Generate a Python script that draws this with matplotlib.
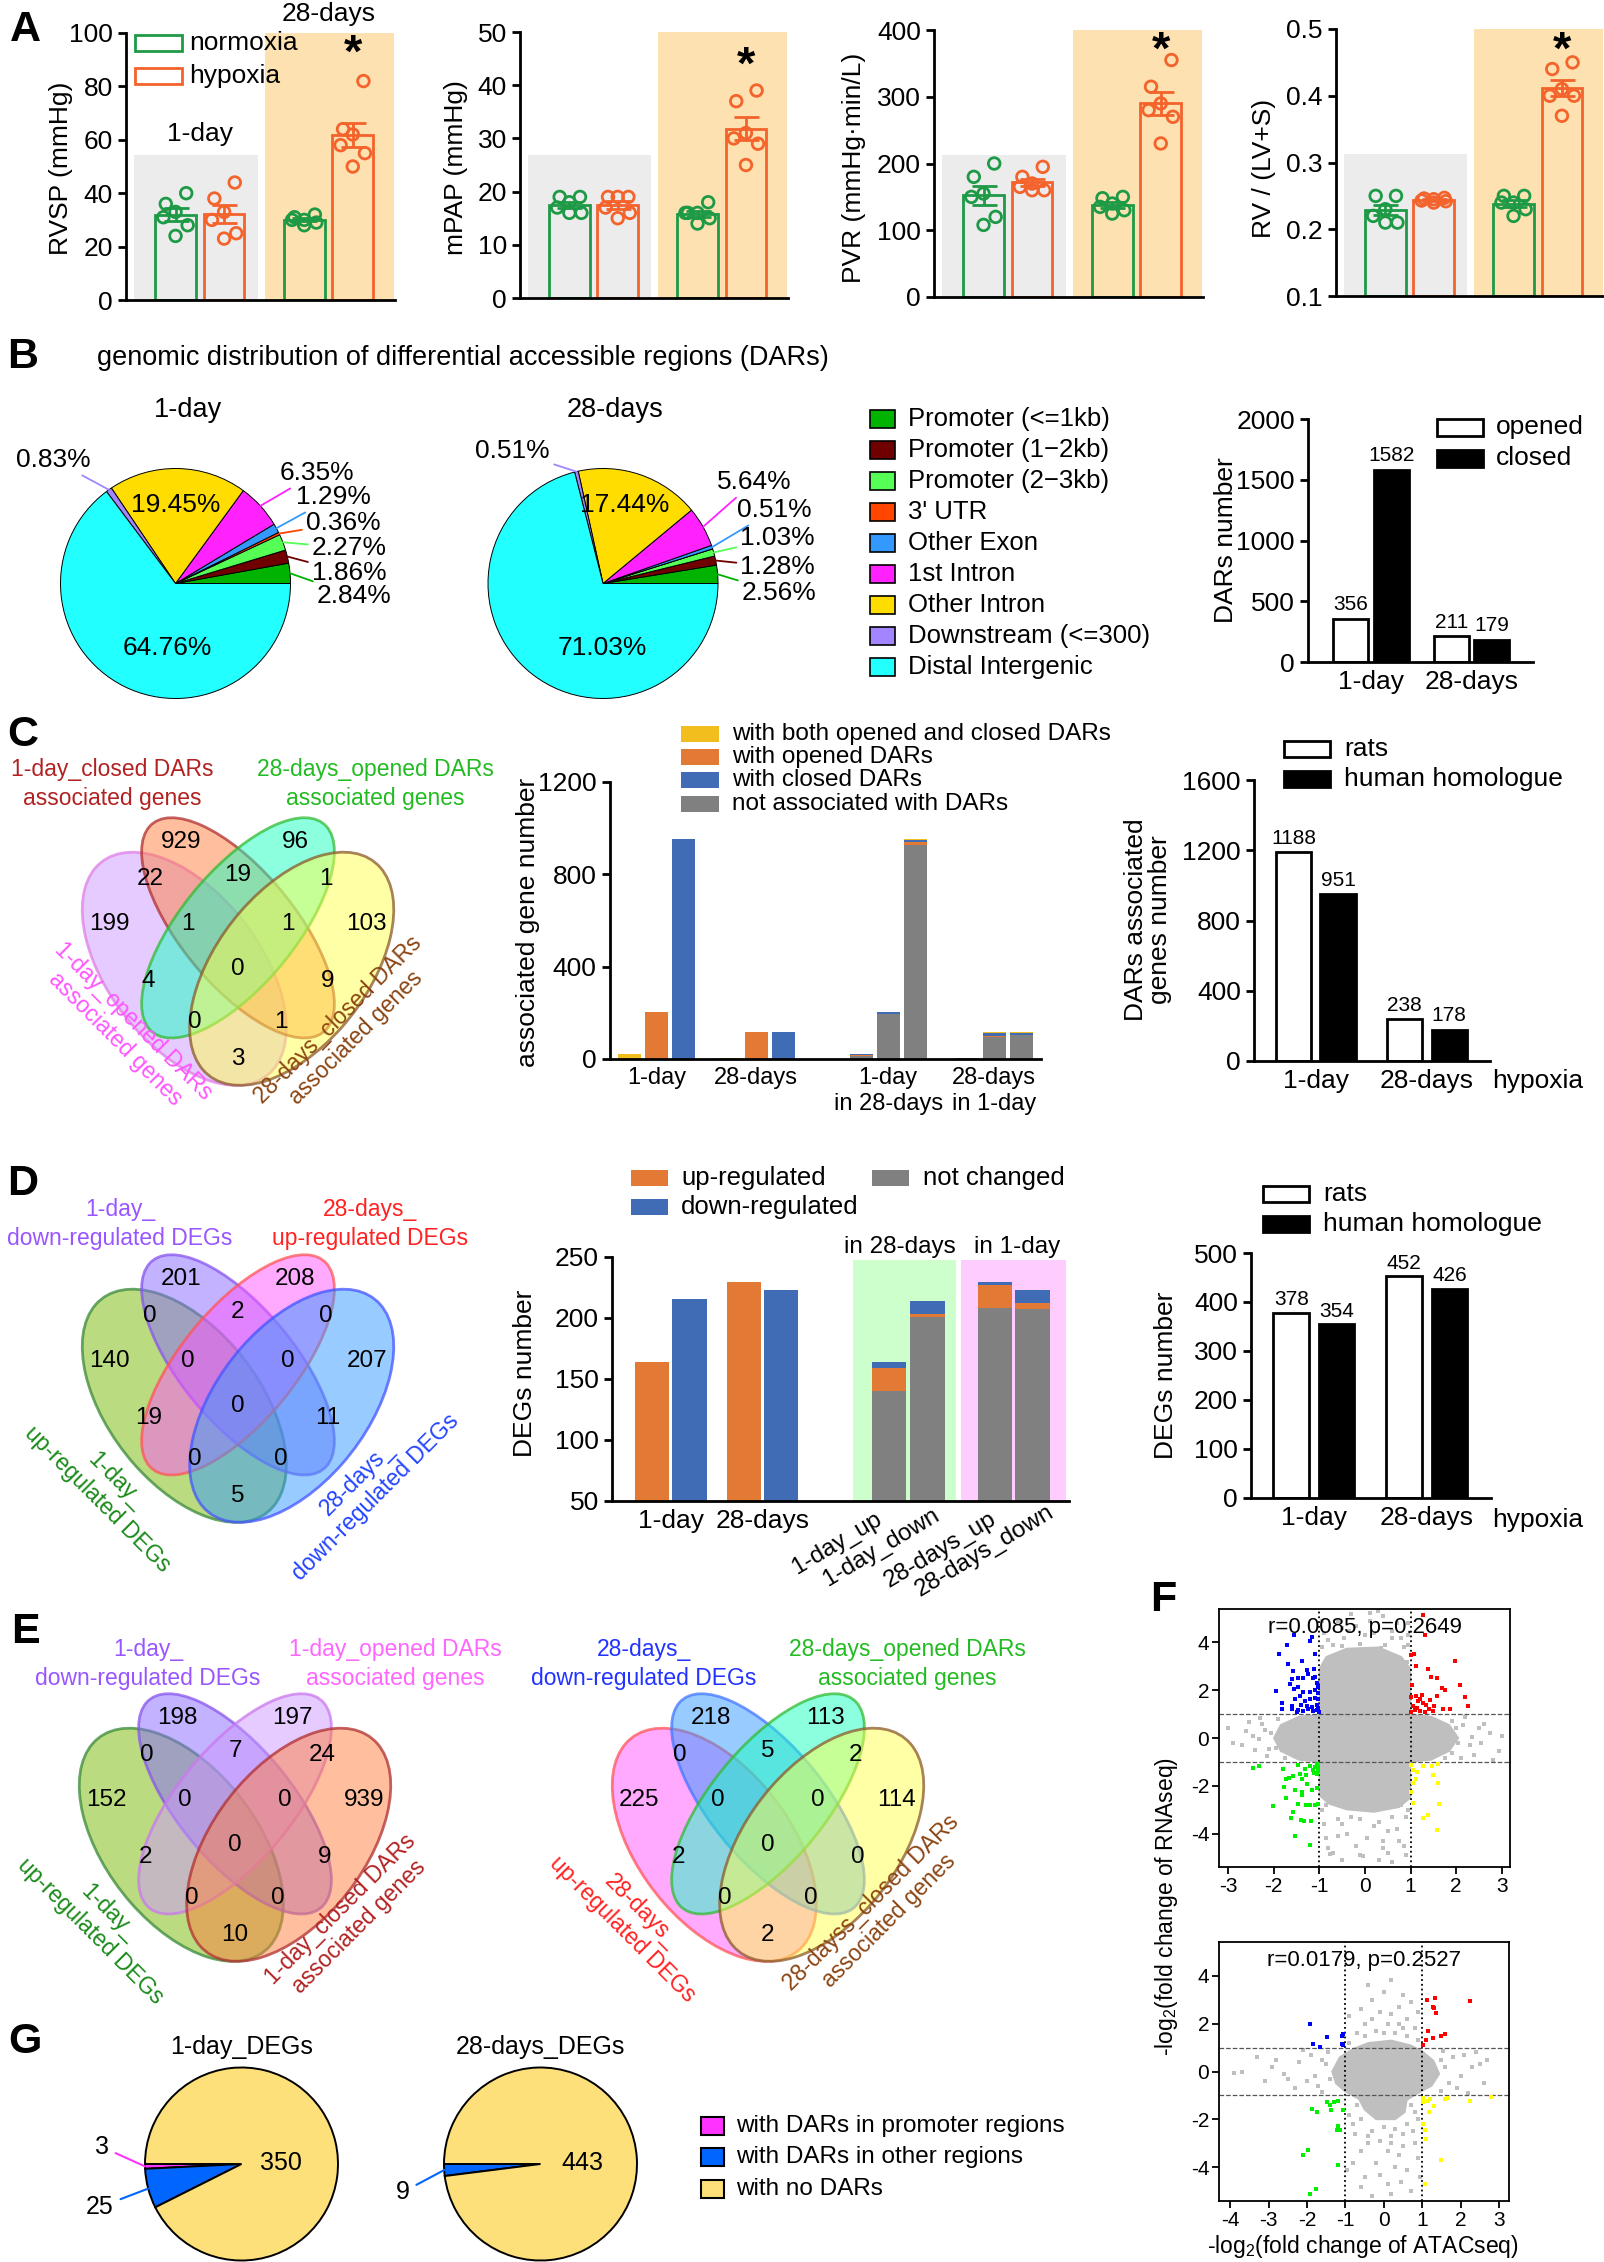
import numpy as np
import matplotlib
matplotlib.use('Agg')
import matplotlib.pyplot as plt
from matplotlib.patches import Ellipse, Rectangle, Polygon

# ---------------- A: haemodynamics (1-day N, 1-day H, 28-days N, 28-days H; 6 rats each) ----------------
rvsp = [[36, 40, 33, 28, 24, 31], [44, 38, 33, 30, 25, 23],
        [32, 31, 30, 29, 28, 30], [82, 62, 64, 58, 55, 50]]
mpap = [[19, 17, 16, 18, 19, 16], [19, 17, 19, 15, 16, 19],
        [18, 16, 15, 14, 16, 16], [39, 37, 30, 29, 31, 25]]
pvr = [[200, 180, 155, 150, 120, 108], [195, 180, 170, 165, 160, 160],
       [150, 148, 135, 130, 125, 140], [355, 315, 290, 280, 270, 230]]
rvi = [[0.25, 0.25, 0.23, 0.22, 0.21, 0.21], [0.247, 0.246, 0.245, 0.243, 0.242, 0.240],
       [0.25, 0.25, 0.24, 0.24, 0.23, 0.22], [0.45, 0.44, 0.41, 0.40, 0.40, 0.37]]

# ---------------- B: genomic distribution of DARs ----------------
b_regions = ['Promoter (<=1kb)', 'Promoter (1\u22122kb)', 'Promoter (2\u22123kb)', "3' UTR", 'Other Exon',
             '1st Intron', 'Other Intron', 'Downstream (<=300)', 'Distal Intergenic']
b_colors = ['#00b300', '#700000', '#55ff55', '#ff4500', '#3399ff', '#ff22ff', '#ffdd00', '#a385ff', '#22ffff']
b_pct_1d = [2.84, 1.86, 2.27, 0.36, 1.29, 6.35, 19.45, 0.83, 64.76]
b_pct_28d = [2.56, 1.28, 1.03, 0.0, 0.51, 5.64, 17.44, 0.51, 71.03]
dar_groups = ['1-day', '28-days']
dar_opened = [356, 211]
dar_closed = [1582, 179]

# ---------------- C ----------------
# venn region order: A, B, C, D, AB, BC, CD, ABC, BCD, AC, ABCD, BD, ACD, ABD, AD
venn_c = [199, 929, 96, 103, 22, 19, 1, 1, 1, 4, 0, 9, 0, 1, 3]
c_cats = ['1-day', '28-days', '1-day\nin 28-days', '28-days\nin 1-day']
c_both = [23, 4]
c_opened = [203, 118]
c_closed = [955, 115]
# stacked bars (sub-bars: both / opened / closed genes of the other time point)
c_in28_gray = [14, 193, 926]
c_in28_opened = [2, 2, 15]
c_in28_closed = [6, 8, 7]
c_in28_both = [1, 0, 7]
c_in1_gray = [3, 95, 104]
c_in1_opened = [0, 3, 1]
c_in1_closed = [1, 16, 6]
c_in1_both = [0, 4, 4]
dag_rats = [1188, 238]
dag_human = [951, 178]

# ---------------- D ----------------
venn_d = [140, 201, 208, 207, 0, 2, 0, 0, 0, 19, 0, 11, 0, 0, 5]
deg_up = [164, 229]
deg_down = [215, 223]
d_stack_names = ['1-day_up', '1-day_down', '28-days_up', '28-days_down']
d_stack_gray = [140, 201, 208, 207]
d_stack_up = [19, 2, 19, 5]
d_stack_down = [5, 11, 2, 11]
deg_rats = [378, 452]
deg_human = [354, 426]

# ---------------- E ----------------
venn_e1 = [152, 198, 197, 939, 0, 7, 24, 0, 0, 2, 0, 9, 0, 0, 10]
venn_e2 = [225, 218, 113, 114, 0, 5, 2, 0, 0, 2, 0, 0, 0, 0, 2]

# ---------------- F: ATACseq vs RNAseq fold changes ----------------
f1_blue = np.array([(-1.96, 1.97), (-1.88, 3.50), (-1.72, 3.89), (-1.56, 4.33), (-1.16, 4.23), (-1.21, 4.08),
                    (-1.09, 3.50), (-1.68, 3.08), (-1.57, 2.79), (-1.39, 3.22), (-1.28, 2.85), (-1.59, 2.45),
                    (-1.47, 2.51), (-1.35, 2.51), (-1.24, 2.70), (-1.15, 2.51), (-1.09, 2.56), (-1.06, 2.32),
                    (-1.81, 1.45), (-1.65, 2.28), (-1.56, 2.07), (-1.46, 2.12), (-1.35, 1.93), (-1.21, 1.93),
                    (-1.10, 2.03), (-1.02, 2.12), (-1.54, 1.65), (-1.43, 1.74), (-1.32, 1.55), (-1.21, 1.65),
                    (-1.10, 1.68), (-1.02, 1.65), (-1.81, 1.21), (-1.59, 1.21), (-1.46, 1.17), (-1.35, 1.13),
                    (-1.24, 1.21), (-1.13, 1.13), (-1.05, 1.17), (-1.50, 1.07), (-1.00, 1.07), (-1.59, 1.36),
                    (-1.28, 1.32), (-1.05, 1.40), (-1.02, 1.90), (-1.12, 2.90), (-1.03, 1.25), (-1.17, 1.30),
                    (-1.40, 1.40)])
f1_red = np.array([(1.27, 5.15), (1.32, 4.33), (1.00, 3.46), (1.08, 3.50), (1.11, 3.02), (1.38, 2.89),
                   (1.45, 2.55), (1.57, 2.51), (1.98, 3.22), (2.08, 2.22), (1.68, 2.09), (1.76, 2.03),
                   (2.19, 1.70), (2.27, 1.32), (1.02, 1.70), (1.12, 1.74), (1.17, 1.55), (1.21, 1.65),
                   (1.28, 1.45), (1.34, 1.40), (1.43, 1.61), (1.51, 1.36), (1.59, 1.74), (1.72, 1.21),
                   (1.87, 1.21), (1.05, 1.32), (1.02, 1.07), (1.10, 1.17), (1.21, 1.13), (1.32, 1.07),
                   (1.50, 1.13), (1.03, 2.22), (1.25, 1.78), (1.40, 1.20), (1.15, 1.25)])
f1_green = np.array([(-2.45, -1.26), (-2.33, -1.19), (-2.01, -2.85), (-1.79, -1.28), (-1.77, -2.05),
                     (-1.74, -1.70), (-1.67, -1.67), (-1.57, -1.61), (-1.54, -2.18), (-1.46, -1.13),
                     (-1.43, -1.51), (-1.37, -1.70), (-1.32, -1.28), (-1.27, -1.93), (-1.21, -1.17),
                     (-1.15, -1.36), (-1.10, -1.22), (-1.06, -1.51), (-1.02, -1.22), (-1.74, -2.51),
                     (-1.57, -3.08), (-1.46, -2.76), (-1.37, -2.37), (-1.29, -2.81), (-1.21, -2.81),
                     (-1.10, -2.81), (-1.02, -2.76), (-1.62, -3.33), (-1.41, -3.43), (-1.34, -3.46),
                     (-1.19, -3.46), (-1.54, -4.10), (-1.21, -4.48), (-1.39, -2.24), (-1.17, -2.18),
                     (-1.06, -2.09), (-1.05, -1.10), (-1.12, -1.45), (-1.30, -1.55), (-1.03, -1.40)])
f1_yellow = np.array([(1.01, -1.13), (1.06, -1.32), (1.15, -1.42), (1.05, -1.89), (1.12, -1.70),
                      (1.28, -1.17), (1.46, -1.17), (1.61, -1.09), (1.50, -1.55), (1.61, -1.89),
                      (1.00, -2.24), (1.05, -2.70), (1.27, -3.33), (1.38, -3.23), (1.63, -2.76),
                      (1.59, -3.87)])
f1_core = np.array([(-2.0, 0.0), (-1.85, 0.55), (-1.45, 0.9), (-1.0, 0.98), (-1.0, 2.9), (-0.85, 3.4),
                    (-0.4, 3.75), (0.3, 3.8), (0.8, 3.4), (1.0, 2.9), (1.0, 0.98), (1.45, 0.9), (1.85, 0.55),
                    (2.05, 0.0), (1.85, -0.55), (1.45, -0.92), (1.0, -1.0), (1.0, -2.5), (0.75, -2.9),
                    (0.2, -3.1), (-0.4, -3.0), (-0.8, -2.75), (-1.0, -2.4), (-1.0, -1.0), (-1.45, -0.92),
                    (-1.85, -0.55)])
f1_gray = np.array([(-2.9, -0.19), (-2.55, 0.69), (-2.33, -0.04), (-2.2, 0.35), (-2.1, -0.45), (-2.25, 0.6),
                    (2.49, 0.40), (2.74, 0.21), (2.93, -0.55), (2.3, -0.3), (2.15, 0.55), (2.4, -0.7),
                    (1.90, -0.61), (-0.77, -4.86), (-0.04, -4.96), (0.29, 5.3), (-0.5, 4.6), (0.6, 4.5),
                    (0.1, 4.9), (-0.3, 5.2), (0.8, 4.2), (-0.8, 4.1), (0.4, -4.3), (-0.4, -4.0), (0.7, -3.8),
                    (-0.9, -3.6), (0.2, -3.7), (-0.2, -4.5), (0.9, -3.3), (-0.6, -3.4), (0.5, -4.8),
                    (-1.9, 0.8), (1.9, 0.7), (-1.75, -0.85), (1.75, -0.85), (0.95, 3.9), (-0.95, 3.8),
                    (0.0, 4.3), (0.45, 3.9), (-0.45, 4.2), (0.85, -4.5), (-0.85, -4.2), (0.3, -5.1),
                    (-0.7, -4.8), (0.95, 4.8), (-0.1, -3.4), (0.6, -3.3), (-0.5, -3.6), (2.05, -0.2),
                    (-2.05, 0.2), (-2.6, 0.3), (-2.4, -0.5), (-2.7, -0.3), (-2.15, -0.75), (-2.3, 0.85),
                    (2.6, 0.6), (2.2, 0.9), (2.55, -0.2), (2.8, -0.9), (2.1, -0.85), (-3.0, 0.4), (3.0, 0.1),
                    (2.35, 0.05), (-2.45, 0.1), (-0.9, 4.4), (-0.6, 4.9), (-0.2, 4.7), (0.4, 5.1), (0.7, 4.8),
                    (0.2, 4.4), (-0.7, 3.9), (0.85, 3.8), (0.6, 4.2), (-0.35, 4.5), (0.1, 5.25), (-0.95, 4.9),
                    (0.95, 4.3), (-0.1, 3.95), (0.35, 3.75), (-0.5, 3.85), (-0.95, -3.0), (0.95, -3.0),
                    (0.8, -2.8), (-0.85, -2.8), (0.3, -3.5), (-0.3, -3.3), (0.5, -3.9), (-0.6, -4.1),
                    (0.05, -4.2), (0.75, -4.3), (-0.8, -4.6), (0.4, -4.6), (-0.1, -4.9), (0.6, -5.2),
                    (-0.5, -5.1), (0.9, -4.9), (-0.9, 3.1), (0.92, 3.2), (-1.95, -0.4), (2.0, 0.4)])
f2_blue = np.array([(-1.91, 2.0), (-1.84, 1.16), (-1.65, 1.01), (-1.47, 1.45), (-1.10, 1.49), (-1.06, 1.58),
                    (-1.08, 1.16), (-1.06, 1.10)])
f2_red = np.array([(1.12, 2.97), (1.33, 3.07), (1.28, 2.69), (1.37, 2.44), (2.24, 2.95), (1.14, 1.68),
                   (1.27, 1.39), (1.11, 1.30), (1.50, 1.49), (1.59, 1.58), (1.02, 1.10), (1.31, 2.63)])
f2_green = np.array([(-2.10, -3.47), (-1.97, -3.28), (-1.93, -5.09), (-1.77, -4.90), (-1.88, -1.56),
                     (-1.75, -1.70), (-1.49, -1.28), (-1.38, -1.60), (-1.30, -1.28), (-1.19, -1.22),
                     (-1.41, -1.41), (-1.19, -2.29), (-1.21, -2.42), (-1.13, -2.46), (-1.19, -3.89),
                     (-1.06, -1.60)])
f2_yellow = np.array([(1.02, -1.09), (1.02, -1.28), (1.15, -1.22), (1.20, -1.14), (1.17, -1.70),
                      (1.30, -1.43), (1.59, -1.14), (1.67, -1.09), (2.24, -1.22), (2.78, -1.07),
                      (1.01, -2.19), (1.07, -2.42), (1.10, -2.80), (1.48, -3.70), (1.07, -4.70)])
f2_core = np.array([(-1.35, 0.0), (-1.15, 0.6), (-0.8, 0.95), (-0.4, 1.2), (0.2, 1.3), (0.7, 1.1),
                    (1.0, 0.85), (1.3, 0.45), (1.45, -0.1), (1.25, -0.6), (0.9, -0.9), (0.6, -1.2),
                    (0.55, -1.7), (0.3, -2.0), (-0.2, -2.0), (-0.5, -1.6), (-0.65, -1.15), (-1.0, -0.85),
                    (-1.25, -0.5)])
f2_gray = np.array([(-3.9, -0.05), (-3.7, 0.0), (-2.6, -0.1), (-2.5, -0.3), (-2.2, 0.4), (-2.0, -0.4),
                    (-1.9, 0.7), (-1.7, -0.6), (-1.5, 0.3), (-1.6, 0.5), (-1.8, -0.2), (2.5, 0.3), (2.3, 0.2),
                    (2.0, -0.2), (1.8, 0.6), (1.7, -0.5), (1.6, 0.2), (2.1, 0.7), (1.9, -0.7), (0.2, 3.8),
                    (-0.3, 3.0), (0.4, 2.7), (-0.1, 2.5), (0.6, 2.2), (-0.5, 2.0), (0.1, 2.0), (0.8, 1.8),
                    (-0.7, 1.6), (0.3, 1.6), (-0.2, 1.7), (0.0, -2.3), (0.5, -2.6), (-0.4, -2.7), (0.2, -3.0),
                    (-0.6, -3.3), (0.4, -3.5), (-0.2, -3.8), (0.6, -4.1), (-0.5, -4.4), (0.1, -4.7),
                    (0.7, -5.0), (-0.3, -5.2), (0.8, -3.0), (-0.8, -2.2), (0.9, -2.0), (-0.9, -1.8),
                    (0.3, -2.4), (-0.1, -2.9), (0.5, 3.2), (-0.6, 2.6), (0.7, 2.9), (0.0, 3.3), (-0.4, 3.6),
                    (0.9, 2.5), (-0.9, 2.3), (0.4, 2.0), (-0.3, 2.2), (0.2, 2.4), (0.6, 1.5), (-0.5, 1.5),
                    (0.9, 1.3), (-0.9, 1.2), (0.0, 1.6), (0.5, 1.8), (0.7, -1.4), (-0.7, -1.4), (0.8, -1.7),
                    (0.6, -2.2), (-0.6, -2.0), (0.2, -2.7), (-0.3, -2.5), (0.75, -2.5), (-0.75, -2.6),
                    (0.1, -3.3), (-0.4, -3.0), (0.5, -3.1), (0.9, -3.6), (-0.8, -3.8), (0.3, -4.0),
                    (-0.1, -4.3), (0.45, -4.6), (-0.6, -4.8), (0.2, -5.1), (0.95, -4.4), (-0.95, -4.1),
                    (-2.9, 0.2), (-3.1, -0.4), (-2.8, 0.5), (-2.3, -0.7), (-2.1, 0.9), (-1.6, -0.85),
                    (-1.45, 0.8), (2.6, -0.5), (2.4, 0.8), (2.2, -0.9), (1.55, 0.85), (1.5, -0.8), (2.7, 0.5),
                    (-1.4, -0.3), (1.5, 0.5), (-3.3, 0.6)])

# ---------------- G ----------------
g_labels = ['with DARs in promoter regions', 'with DARs in other regions', 'with no DARs']
g_colors = ['#ff33ff', '#0066ff', '#fde07a']
g_1d = [3, 25, 350]
g_28d = [0, 9, 443]

# ================= figure =================
plt.rcParams['font.family'] = ['Liberation Sans', 'DejaVu Sans']
plt.rcParams['axes.unicode_minus'] = False
plt.rcParams['mathtext.fontset'] = 'custom'
plt.rcParams['mathtext.rm'] = 'Liberation Sans'
plt.rcParams['mathtext.it'] = 'Liberation Sans:italic'

W, H = 1604, 2262
fig = plt.figure(figsize=(W / 100, H / 100), dpi=100)

GREEN, ORANGE = '#1e9a46', '#f4632b'
YEL, ORG, BLU, GRY = '#f2be1e', '#e27a35', '#3f6cb4', '#808080'


def add_ax(x0, y0, x1, y1):
    return fig.add_axes([x0 / W, 1 - y1 / H, (x1 - x0) / W, (y1 - y0) / H])


def ft(x, y, s, **kw):
    kw.setdefault('ha', 'center')
    kw.setdefault('va', 'center')
    return fig.text(x / W, 1 - y / H, s, **kw)


def fbox(x0, y0, x1, y1, fc, ec='black', lw=1.5):
    fig.add_artist(Rectangle((x0 / W, 1 - y1 / H), (x1 - x0) / W, (y1 - y0) / H,
                             transform=fig.transFigure, facecolor=fc, edgecolor=ec, lw=lw))


def frac(x, y):
    return (x / W, 1 - y / H)


def style_ax(ax, fs=19):
    for s in ['top', 'right']:
        ax.spines[s].set_visible(False)
    for s in ['left', 'bottom']:
        ax.spines[s].set_linewidth(2)
    ax.tick_params(axis='y', labelsize=fs, width=2, length=6)
    ax.tick_params(axis='x', labelsize=fs, length=0, pad=6)
    ax.patch.set_alpha(0)


for letter, (x, y) in zip('ABCDEFG', [(25, 30), (23, 357), (23, 735), (23, 1184), (25, 1632),
                                      (1163, 1600), (25, 2042)]):
    ft(x, y, letter, fontsize=31, fontweight='bold')

# ---------------- A ----------------
A_X = [0, 1, 2.65, 3.65]
A_COL = [GREEN, ORANGE, GREEN, ORANGE]
DOT_DX = np.array([0.22, -0.2, 0.0, -0.25, 0.25, 0.0])


def physio(ax, groups, bottom, top, ticks, gray_top, star_y, ylabel, lx):
    style_ax(ax)
    ax.set_xlim(-1.02, 4.52)
    ax.set_ylim(bottom, top)
    ax.set_yticks(ticks)
    ax.set_xticks([])
    ax.add_patch(Rectangle((-0.85, bottom), 2.54, gray_top - bottom, fc='#ececec', ec='none', zorder=0))
    ax.add_patch(Rectangle((1.84, bottom), 2.66, top - bottom, fc='#fde1b1', ec='none', zorder=0))
    for x, vals, c in zip(A_X, groups, A_COL):
        v = np.array(vals, float)
        m = v.mean()
        se = v.std(ddof=1) / np.sqrt(len(v))
        ax.bar(x, m - bottom, bottom=bottom, width=0.84, fc='none', ec=c, lw=2, zorder=2)
        ax.errorbar(x, m, yerr=se, fmt='none', ecolor=c, elinewidth=2, capsize=9, capthick=2, zorder=3)
        dx = np.zeros(len(v))
        dx[np.argsort(-v)] = DOT_DX
        ax.scatter(x + dx, v, s=70, fc='none', ec=c, lw=2, zorder=4, clip_on=False)
    ax.text(A_X[3], star_y, '*', ha='center', va='center', fontsize=34, fontweight='bold')
    ft(lx, 168, ylabel, rotation=90, fontsize=19)


ax1 = add_ax(126, 33, 395, 300)
physio(ax1, rvsp, 0, 100, [0, 20, 40, 60, 80, 100], 54.4, 92, 'RVSP (mmHg)', 61)
ax1.text(0.5, 62, '1-day', ha='center', va='center', fontsize=19)
ax1.text(3.15, 107, '28-days', ha='center', va='center', fontsize=19, clip_on=False)
fbox(135, 35, 182, 51, 'none', GREEN, 2)
fbox(135, 68, 182, 84, 'none', ORANGE, 2)
ft(189, 43, 'normoxia', ha='left', fontsize=19)
ft(189, 76, 'hypoxia', ha='left', fontsize=19)

ax2 = add_ax(520, 32, 788, 298)
physio(ax2, mpap, 0, 50, [0, 10, 20, 30, 40, 50], 26.9, 43.5, 'mPAP (mmHg)', 456)
ax3 = add_ax(934, 30, 1203, 297)
physio(ax3, pvr, 0, 400, [0, 100, 200, 300, 400], 213, 368, 'PVR (mmHg\u00b7min/L)', 854)
ax4 = add_ax(1336, 29, 1604, 296)
physio(ax4, rvi, 0.1, 0.5, [0.1, 0.2, 0.3, 0.4, 0.5], 0.312, 0.466, 'RV / (LV+S)', 1264)

# ---------------- B ----------------
ft(97, 358, 'genomic distribution of differential accessible regions (DARs)', ha='left', fontsize=19.5)


def pie_ax(cx, cy, r):
    return add_ax(cx - r * 1.02, cy - r * 1.02, cx + r * 1.02, cy + r * 1.02)


def dar_pie(cx, cy, r, vals, title, outer, inner):
    ax = pie_ax(cx, cy, r)
    ax.pie(vals, colors=b_colors, startangle=0, counterclock=True,
           wedgeprops=dict(edgecolor='black', linewidth=0.7))
    ax.set_aspect('auto')
    ax.set_xlim(-1.02, 1.02)
    ax.set_ylim(-1.02, 1.02)
    cum = np.cumsum([0] + list(vals)) / np.sum(vals) * 360
    for i, (x, y, ha) in outer.items():
        th = np.deg2rad((cum[i] + cum[i + 1]) / 2)
        ax.annotate(f'{vals[i]:.2f}%', xy=(np.cos(th), np.sin(th)), xycoords='data',
                    xytext=frac(x, y), textcoords='figure fraction', ha=ha, va='center', fontsize=19,
                    arrowprops=dict(arrowstyle='-', color=b_colors[i], lw=1.3, shrinkA=1, shrinkB=0))
    for i, (x, y) in inner.items():
        ft(x, y, f'{vals[i]:.2f}%', fontsize=19)
    ft(cx + 12, 410, title, fontsize=19.5)


dar_pie(175.5, 583.5, 115, b_pct_1d, '1-day',
        {7: (91, 460, 'right'), 5: (279.5, 473, 'left'), 4: (296, 497, 'left'), 3: (306, 523, 'left'),
         2: (312, 548, 'left'), 1: (312, 573, 'left'), 0: (317, 596, 'left')},
        {6: (176, 505), 8: (167, 648)})
dar_pie(603, 583.5, 115, b_pct_28d, '28-days',
        {7: (550, 451, 'right'), 5: (716.5, 482, 'left'), 4: (737, 510, 'left'), 2: (740.5, 538, 'left'),
         1: (740.5, 567, 'left'), 0: (742, 593, 'left')},
        {6: (625, 505), 8: (602, 648)})

for i, (lab, col) in enumerate(zip(b_regions, b_colors)):
    yc = 419.3 + i * 31
    fbox(870, yc - 9, 895, yc + 9, col, 'black', 1.2)
    ft(908, yc, lab, ha='left', fontsize=18.5)

ax = add_ax(1308, 419, 1533, 662)
style_ax(ax)
ax.bar([0, 2.49], dar_opened, width=0.86, fc='white', ec='black', lw=2)
ax.bar([1, 3.48], dar_closed, width=0.86, fc='black', ec='black', lw=2)
for x, v in zip([0, 2.49, 1, 3.48], dar_opened + dar_closed):
    ax.text(x, v + 40, str(v), ha='center', va='bottom', fontsize=15)
ax.set_xlim(-1.05, 4.5)
ax.set_ylim(0, 2000)
ax.set_yticks([0, 500, 1000, 1500, 2000])
ax.set_xticks([0.5, 2.985])
ax.set_xticklabels(dar_groups)
ft(1226, 540, 'DARs number', rotation=90, fontsize=19)
fbox(1437, 419, 1483, 436, 'white', 'black', 2)
fbox(1437, 450, 1483, 467, 'black', 'black', 2)
ft(1496, 427, 'opened', ha='left', fontsize=19)
ft(1496, 458, 'closed', ha='left', fontsize=19)

# ---------------- Venn helper ----------------
VENN_POS = [(0.14, 0.58), (0.34, 0.78), (0.66, 0.78), (0.86, 0.58),
            (0.255, 0.69), (0.50, 0.70), (0.745, 0.69),
            (0.36, 0.58), (0.64, 0.58),
            (0.25, 0.44), (0.50, 0.47), (0.75, 0.44),
            (0.38, 0.34), (0.62, 0.34), (0.50, 0.25)]
ELL = [((0.35, 0.47), 0.70, 0.40, -45), ((0.50, 0.57), 0.70, 0.30, -45),
       ((0.50, 0.57), 0.70, 0.30, 45), ((0.65, 0.47), 0.70, 0.40, 45)]


def venn4(cx, top, counts, fills, edges):
    sx, sy = 358, 409
    ax = add_ax(cx - sx / 2, top, cx + sx / 2, top + sy)
    ax.set_xlim(0, 1)
    ax.set_ylim(0, 1)
    ax.axis('off')
    for (c, w, h, ang), fc, ec in zip(ELL, fills, edges):
        ax.add_patch(Ellipse(c, w, h, angle=ang, fc=fc, ec='none', alpha=0.5))
        ax.add_patch(Ellipse(c, w, h, angle=ang, fc='none', ec=ec, lw=2, alpha=0.75))
    for (u, v), n in zip(VENN_POS, counts):
        ax.text(u, v, str(n), ha='center', va='center', fontsize=17.5)


def venn_labels(items):
    for x, y, s, col, rot in items:
        if rot == 0:
            # upright titles: one text per line
            for k, line in enumerate(s.split('\n')):
                ft(x, y - 14.5 + 29 * k, line, color=col, fontsize=16.5)
        else:
            ft(x, y, s, color=col, rotation=rot, fontsize=16.5, multialignment='center',
               rotation_mode='anchor', linespacing=1.15)


LAV, SAL, AQU, YLW = '#cc99ff', '#ff7f3f', '#1affc0', '#ffff4d'
GRN, PUR, PNK, SKY = '#77b800', '#8866ff', '#ff55ff', '#3399ff'

# ---------------- C ----------------
venn4(238, 752, venn_c, [LAV, SAL, AQU, YLW], ['#e07fe8', '#b03030', '#33bb33', '#8b5a2b'])
venn_labels([(112, 784, '1-day_closed DARs\nassociated genes', '#b22222', 0),
             (375, 784, '28-days_opened DARs\nassociated genes', '#22bb22', 0),
             (124, 1030, '1-day_opened DARs\nassociated genes', '#ff55ff', -45),
             (347, 1029, '28-days_closed DARs\nassociated genes', '#8b4513', 45)])

ax = add_ax(609.5, 782, 1041, 1059)
style_ax(ax)
gx = [0, 1, 2.32, 3.38]
off = [-0.27, 0.0, 0.27]
bw = 0.23
for g in range(2):
    for k, (v, col) in enumerate(zip([c_both[g], c_opened[g], c_closed[g]], [YEL, ORG, BLU])):
        ax.bar(gx[g] + off[k], v, width=bw, color=col)
for g, parts in [(2, (c_in28_gray, c_in28_opened, c_in28_closed, c_in28_both)),
                 (3, (c_in1_gray, c_in1_opened, c_in1_closed, c_in1_both))]:
    pos = [gx[g] + o for o in off]
    base = np.zeros(3)
    for vals, col in zip(parts, [GRY, ORG, BLU, YEL]):
        ax.bar(pos, vals, bottom=base, width=bw, color=col)
        base = base + np.array(vals)
ax.set_xlim(-0.47, 3.85)
ax.set_ylim(0, 1200)
ax.set_yticks([0, 400, 800, 1200])
ax.set_xticks(gx)
ax.set_xticklabels(c_cats, fontsize=17)
ft(528, 922, 'associated gene number', rotation=90, fontsize=19)
for i, (lab, col) in enumerate(zip(['with both opened and closed DARs', 'with opened DARs',
                                    'with closed DARs', 'not associated with DARs'], [YEL, ORG, BLU, GRY])):
    yc = 733.7 + i * 23.3
    fbox(681, yc - 8, 719, yc + 8, col, 'none', 0)
    ft(732, yc, lab, ha='left', fontsize=17.5)


def pair_bars(box, white, black, top, ticks, pad, hx, hy, lab_x, lab_y, ylabel, leg_x, leg_y):
    ax = add_ax(*box)
    style_ax(ax)
    ax.bar([0, 2.5], white, width=0.79, fc='white', ec='black', lw=2)
    ax.bar([1, 3.5], black, width=0.79, fc='black', ec='black', lw=2)
    for x, v in zip([0, 2.5, 1, 3.5], white + black):
        ax.text(x, v + pad, str(v), ha='center', va='bottom', fontsize=15)
    ax.set_xlim(-0.89, 4.42)
    ax.set_ylim(0, top)
    ax.set_yticks(ticks)
    ax.set_xticks([0.5, 3.0])
    ax.set_xticklabels(['1-day', '28-days'])
    ft(hx, hy, 'hypoxia', fontsize=19)
    ft(lab_x, lab_y, ylabel, rotation=90, fontsize=19, linespacing=1.0)
    fbox(leg_x, leg_y - 8, leg_x + 46, leg_y + 8, 'white', 'black', 2)
    fbox(leg_x, leg_y + 22, leg_x + 46, leg_y + 38, 'black', 'black', 2)
    ft(leg_x + 60, leg_y, 'rats', ha='left', fontsize=19)
    ft(leg_x + 60, leg_y + 30, 'human homologue', ha='left', fontsize=19)


pair_bars((1254, 780, 1490, 1061), dag_rats, dag_human, 1600, [0, 400, 800, 1200, 1600], 25,
          1538, 1081, 1148, 920, 'DARs associated\ngenes number', 1284, 749)

# ---------------- D ----------------
venn4(238, 1189, venn_d, [GRN, PUR, PNK, SKY], ['#3a8a3a', '#8855ee', '#ff5555', '#4455ff'])
venn_labels([(120, 1224, '1-day_\ndown-regulated DEGs', '#9955ff', 0),
             (370, 1224, '28-days_\nup-regulated DEGs', '#ff2222', 0),
             (107, 1490, '1-day_\nup-regulated DEGs', '#1a8a1a', -45),
             (366, 1488, '28-days_\ndown-regulated DEGs', '#2244ff', 45)])

ax = add_ax(612, 1256.7, 1069, 1501)
style_ax(ax)
ax.add_patch(Rectangle((5.35, 50), 2.74, 197, fc='#ccffcc', ec='none', zorder=0))
ax.add_patch(Rectangle((8.23, 50), 2.77, 197, fc='#ffccff', ec='none', zorder=0))
ax.bar([0, 2.45], deg_up, width=0.92, color=ORG, zorder=2)
ax.bar([1, 3.43], deg_down, width=0.92, color=BLU, zorder=2)
sp = [6.3, 7.32, 9.12, 10.12]
ax.bar(sp, d_stack_gray, width=0.92, color=GRY, zorder=2)
ax.bar(sp, d_stack_up, bottom=d_stack_gray, width=0.92, color=ORG, zorder=2)
ax.bar(sp, d_stack_down, bottom=np.add(d_stack_gray, d_stack_up), width=0.92, color=BLU, zorder=2)
ax.set_xlim(-1.06, 11.09)
ax.set_ylim(50, 250)
ax.set_yticks([50, 100, 150, 200, 250])
ax.set_xticks([0.5, 2.94])
ax.set_xticklabels(['1-day', '28-days'])
for (x, y), lab in zip([(880, 1517), (938, 1514), (995, 1517), (1052, 1510)], d_stack_names):
    ft(x, y, lab, rotation=31, ha='right', va='center', rotation_mode='anchor', fontsize=17.5)
ft(900, 1247, 'in 28-days', fontsize=17.5)
ft(1017, 1247, 'in 1-day', fontsize=17.5)
ft(525, 1373, 'DEGs number', rotation=90, fontsize=19)
fbox(631, 1170, 668, 1186, ORG, 'none', 0)
fbox(631, 1199, 668, 1215, BLU, 'none', 0)
fbox(872, 1170, 909, 1186, GRY, 'none', 0)
ft(681, 1178, 'up-regulated', ha='left', fontsize=18.5)
ft(681, 1207, 'down-regulated', ha='left', fontsize=18.5)
ft(923, 1178, 'not changed', ha='left', fontsize=18.5)

pair_bars((1251, 1253, 1491, 1497.7), deg_rats, deg_human, 500, [0, 100, 200, 300, 400, 500], 8,
          1538, 1520, 1166, 1375, 'DEGs number', 1263, 1194)

# ---------------- E ----------------
venn4(235, 1628, venn_e1, [GRN, PUR, LAV, SAL], ['#3a8a3a', '#8855ee', '#cc77ee', '#b03030'])
venn4(768, 1628, venn_e2, [PNK, SKY, AQU, YLW], ['#ff5555', '#4477ff', '#33bb33', '#8b5a2b'])
venn_labels([(148, 1664, '1-day_\ndown-regulated DEGs', '#9955ff', 0),
             (395, 1664, '1-day_opened DARs\nassociated genes', '#ff66ff', 0),
             (100, 1922, '1-day_\nup-regulated DEGs', '#1a8a1a', -45),
             (350, 1918, '1-day_closed DARs\nassociated genes', '#b22222', 45),
             (644, 1664, '28-days_\ndown-regulated DEGs', '#2233ff', 0),
             (907, 1664, '28-days_opened DARs\nassociated genes', '#22bb22', 0),
             (632, 1920, '28-days_\nup-regulated DEGs', '#ff2222', -45),
             (880, 1912, '28-dayss_closed DARs\nassociated genes', '#8b4513', 45)])

# ---------------- F ----------------


def scatter_panel(box, xlim, xticks, core, gray, cols, label):
    ax = add_ax(*box)
    ax.add_patch(Polygon(core, closed=True, fc='#bfbfbf', ec='#bfbfbf', lw=1, zorder=1))
    ax.scatter(gray[:, 0], gray[:, 1], s=7, marker='s', c='#bfbfbf', lw=0, zorder=1)
    for pts, c in cols:
        ax.scatter(pts[:, 0], pts[:, 1], s=9, marker='s', c=c, lw=0, zorder=3)
    for v in (-1, 1):
        ax.axvline(v, ls=':', color='black', lw=1.3, zorder=2)
        ax.axhline(v, ls='--', color='#555555', lw=0.9, zorder=2)
    ax.set_xlim(xlim)
    ax.set_ylim(-5.4, 5.4)
    ax.set_xticks(xticks)
    ax.set_yticks([-4, -2, 0, 2, 4])
    ax.tick_params(labelsize=15, width=1.3, length=5, pad=2)
    for s in ax.spines.values():
        s.set_linewidth(1.3)
    ax.text(0.5, 0.93, label, transform=ax.transAxes, ha='center', va='center', fontsize=16)


scatter_panel((1219, 1609, 1510, 1867), (-3.2, 3.18), [-3, -2, -1, 0, 1, 2, 3], f1_core, f1_gray,
              [(f1_blue, '#0000ff'), (f1_red, '#ff0000'), (f1_green, '#00ee00'), (f1_yellow, '#ffff00')],
              'r=0.0085, p=0.2649')
scatter_panel((1219, 1942, 1509, 2201), (-4.29, 3.26), [-4, -3, -2, -1, 0, 1, 2, 3], f2_core, f2_gray,
              [(f2_blue, '#0000ff'), (f2_red, '#ff0000'), (f2_green, '#00ee00'), (f2_yellow, '#ffff00')],
              'r=0.0179, p=0.2527')
ft(1167, 1907, '-log$_2$(fold change of RNAseq)', rotation=90, fontsize=16.5)
ft(1363, 2246, '-log$_2$(fold change of ATACseq)', fontsize=16.5)

# ---------------- G ----------------


def deg_pie(cx, cy, r, vals, title, out, val_xy):
    ax = pie_ax(cx, cy, r)
    ax.pie(vals, colors=g_colors, startangle=180, counterclock=True,
           wedgeprops=dict(edgecolor='black', linewidth=1.4))
    ax.set_aspect('auto')
    ax.set_xlim(-1.02, 1.02)
    ax.set_ylim(-1.02, 1.02)
    cum = 180 + np.cumsum([0] + list(vals)) / np.sum(vals) * 360
    for i, (x, y) in out.items():
        th = np.deg2rad((cum[i] + cum[i + 1]) / 2)
        ax.annotate(str(vals[i]), xy=(np.cos(th), np.sin(th)), xycoords='data',
                    xytext=frac(x, y), textcoords='figure fraction', ha='center', va='center', fontsize=18,
                    arrowprops=dict(arrowstyle='-', color=g_colors[i], lw=1.5, shrinkA=3, shrinkB=0))
    ft(val_xy[0], val_xy[1], str(vals[2]), fontsize=18)
    ft(cx, 2047, title, fontsize=18)


deg_pie(241.5, 2164, 96.5, g_1d, '1-day_DEGs', {0: (102, 2147), 1: (100, 2207)}, (281, 2163))
deg_pie(540.5, 2164, 96.5, g_28d, '28-days_DEGs', {1: (403, 2192)}, (582.5, 2163))
for i, (lab, col) in enumerate(zip(g_labels, g_colors)):
    yc = [2126, 2157, 2189][i]
    fbox(700.5, yc - 9, 724, yc + 9, col, 'black', 1.5)
    ft(736.5, yc, lab, ha='left', fontsize=17.5)

fig.savefig('out.png', dpi=100)
